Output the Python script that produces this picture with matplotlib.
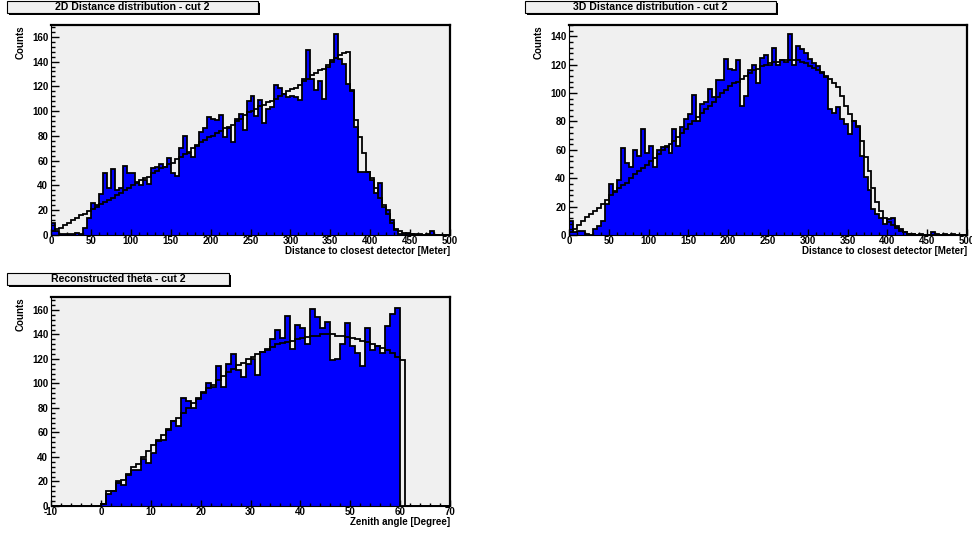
import matplotlib
matplotlib.use('Agg')
import matplotlib.pyplot as plt
import numpy as np
from matplotlib.patches import Rectangle
from matplotlib.ticker import MultipleLocator

plt.rcParams['font.family'] = ['Liberation Sans', 'DejaVu Sans']
plt.rcParams['font.weight'] = 'bold'
plt.rcParams['axes.unicode_minus'] = False

# ---- data (counts per bin) ----
dist_edges = np.arange(0, 505, 5)
theta_edges = np.arange(-10, 71, 1)

d2_data = [10, 3, 1, 1, 1, 1, 2, 1, 6, 14,
           26, 24, 33, 50, 38, 53, 36, 38, 56, 50,
           50, 43, 40, 44, 41, 54, 55, 57, 55, 62,
           50, 48, 70, 80, 66, 63, 73, 83, 86, 95,
           94, 93, 97, 79, 86, 75, 94, 98, 85, 108,
           112, 96, 109, 90, 102, 103, 121, 119, 114, 111,
           112, 111, 109, 126, 149, 126, 117, 124, 110, 136,
           141, 162, 142, 138, 122, 116, 87, 51, 51, 51,
           44, 34, 42, 23, 20, 12, 4, 1, 1, 2,
           1, 0, 1, 0, 1, 3, 0, 0, 0, 0]
d2_ref = [3, 5, 6, 8, 10, 12, 14, 16, 17, 19,
          21, 23, 25, 27, 28, 30, 32, 34, 36, 38,
          40, 42, 44, 46, 47, 50, 52, 54, 55, 57,
          58, 61, 63, 65, 67, 70, 72, 75, 77, 79,
          80, 82, 84, 86, 87, 89, 92, 94, 97, 99,
          100, 102, 104, 105, 107, 108, 110, 112, 114, 116,
          118, 119, 121, 124, 126, 129, 131, 133, 134, 137,
          140, 143, 145, 147, 148, 117, 93, 79, 66, 51,
          46, 38, 30, 24, 17, 10, 5, 3, 2, 1,
          1, 1, 0, 0, 0, 0, 0, 0, 0, 0]

d3_data = [10, 2, 3, 3, 1, 0, 4, 6, 10, 22,
           36, 30, 39, 61, 51, 48, 60, 56, 75, 58,
           63, 48, 60, 62, 63, 58, 75, 63, 76, 82,
           85, 99, 80, 92, 94, 103, 97, 109, 109, 124,
           117, 116, 123, 91, 98, 116, 120, 107, 125, 127,
           120, 132, 120, 123, 122, 142, 120, 133, 131, 128,
           124, 121, 119, 115, 111, 89, 86, 90, 82, 78,
           71, 80, 77, 56, 41, 32, 18, 15, 12, 8,
           11, 12, 6, 4, 2, 1, 1, 0, 1, 0,
           0, 2, 1, 0, 1, 0, 1, 0, 0, 0]
d3_ref = [2, 4, 7, 10, 13, 15, 17, 19, 22, 25,
          28, 31, 33, 35, 37, 40, 43, 45, 47, 49,
          52, 54, 57, 60, 62, 64, 66, 69, 72, 75,
          78, 80, 83, 86, 89, 91, 94, 97, 100, 102,
          105, 107, 108, 110, 112, 114, 116, 117, 119, 120,
          121, 122, 122, 123, 123, 123, 123, 123, 122, 121,
          119, 118, 116, 114, 112, 110, 107, 104, 98, 91,
          85, 80, 76, 66, 55, 45, 33, 23, 17, 12,
          9, 7, 5, 3, 2, 1, 1, 0, 0, 0,
          0, 0, 0, 0, 0, 0, 0, 0, 0, 0]

th_data = [0] * 10 + [2, 10, 12, 20, 17, 25, 29, 29, 38, 35,
                      43, 53, 54, 62, 69, 65, 88, 86, 80, 87,
                      93, 100, 97, 114, 97, 116, 124, 111, 105, 116,
                      120, 107, 126, 127, 136, 144, 137, 155, 128, 148,
                      145, 132, 161, 154, 145, 150, 119, 120, 132, 149,
                      131, 125, 114, 145, 127, 131, 125, 147, 157, 162] + [0] * 10
th_ref = [0] * 10 + [2, 12, 12, 19, 21, 26, 32, 34, 40, 45,
                     50, 54, 58, 63, 69, 72, 76, 80, 84, 88,
                     92, 96, 99, 103, 106, 109, 112, 115, 117, 120,
                     122, 124, 126, 128, 130, 132, 133, 134, 135, 136,
                     137, 138, 139, 139, 140, 140, 140, 139, 139, 138,
                     137, 136, 135, 134, 132, 131, 129, 127, 125, 122] + [119] + [0] * 9

W, H = 972, 533
fig = plt.figure(figsize=(W / 100, H / 100), dpi=100)


def px_axes(l, t, r, b):
    return fig.add_axes([l / W, 1 - b / H, (r - l) / W, (b - t) / H])


def title_box(l, t, r, b, text):
    fig.add_artist(Rectangle(((l + 2) / W, 1 - (b + 2) / H), (r - l) / W, (b - t) / H,
                             transform=fig.transFigure, facecolor='black', edgecolor='none'))
    fig.add_artist(Rectangle((l / W, 1 - b / H), (r - l) / W, (b - t) / H,
                             transform=fig.transFigure, facecolor='#f0f0f0',
                             edgecolor='black', lw=0.8))
    fig.text((l + r) / 2 / W, 1 - (t + b) / 2 / H, text, ha='center', va='center',
             fontsize=7.6, fontweight='bold')


def draw_panel(ax, edges, data, ref, xlim, ylim, xmaj, xmin):
    ax.set_facecolor('#f0f0f0')
    ax.stairs(data, edges, fill=True, color='#0000ff', lw=0)
    ax.stairs(data, edges, color='black', lw=1.3, baseline=0)
    ax.stairs(ref, edges, color='black', lw=1.3, baseline=0)
    ax.set_xlim(*xlim)
    ax.set_ylim(*ylim)
    ax.xaxis.set_major_locator(MultipleLocator(xmaj))
    ax.xaxis.set_minor_locator(MultipleLocator(xmin))
    ax.yaxis.set_major_locator(MultipleLocator(20))
    ax.yaxis.set_minor_locator(MultipleLocator(4))
    ax.tick_params(which='both', direction='in', labelsize=7, width=1)
    ax.tick_params(axis='y', which='major', length=6, pad=2)
    ax.tick_params(axis='y', which='minor', length=3)
    ax.tick_params(axis='x', which='major', length=4, pad=1)
    ax.tick_params(axis='x', which='minor', length=2)
    for lab in ax.get_xticklabels() + ax.get_yticklabels():
        lab.set_fontweight('bold')
    for s in ['top', 'right']:
        ax.spines[s].set_linewidth(1.6)


ax1 = px_axes(51, 25, 450, 235)
draw_panel(ax1, dist_edges, d2_data, d2_ref, (0, 500), (0, 169.5), 50, 10)
ax2 = px_axes(569, 25, 967, 235)
draw_panel(ax2, dist_edges, d3_data, d3_ref, (0, 500), (0, 148), 50, 10)
ax3 = px_axes(51, 297, 450, 506)
draw_panel(ax3, theta_edges, th_data, th_ref, (-10, 70), (0, 170.6), 10, 2)

title_box(7, 1, 258, 13, '2D Distance distribution - cut 2')
title_box(525, 1, 776, 13, '3D Distance distribution - cut 2')
title_box(7, 273, 229, 285, 'Reconstructed theta - cut 2')

for x, y in [(20.5, 25), (538.5, 25), (20.5, 297)]:
    fig.text(x / W, 1 - y / H, 'Counts', rotation=90, ha='center', va='top',
             fontsize=7, fontweight='bold')
fig.text(450 / W, 1 - 251 / H, 'Distance to closest detector [Meter]', ha='right',
         va='center', fontsize=7, fontweight='bold')
fig.text(967 / W, 1 - 251 / H, 'Distance to closest detector [Meter]', ha='right',
         va='center', fontsize=7, fontweight='bold')
fig.text(450 / W, 1 - 522 / H, 'Zenith angle [Degree]', ha='right',
         va='center', fontsize=7, fontweight='bold')

fig.savefig('out.png', dpi=100)
